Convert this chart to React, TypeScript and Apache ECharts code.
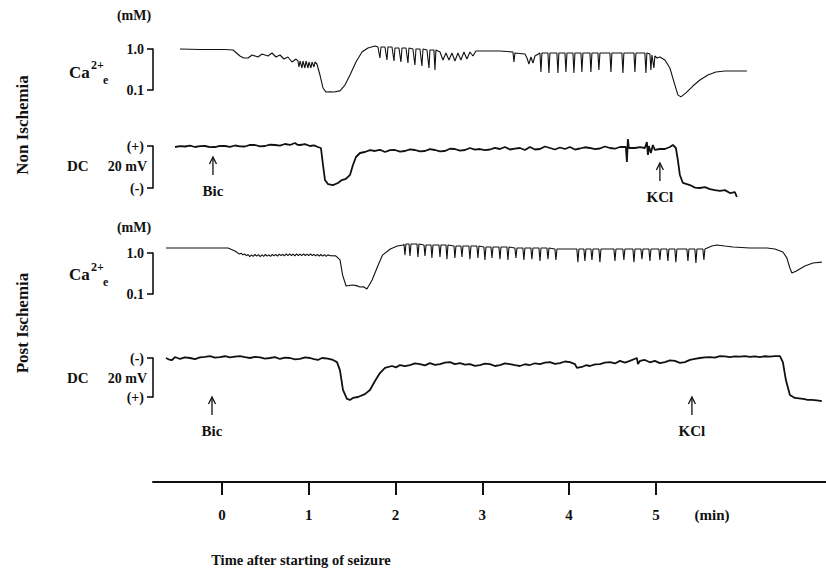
import React, { useEffect, useRef } from 'react';
import * as echarts from 'echarts';

// ---- axis / scale data ----
const TIME_MIN = -0.795; // minutes at left end of time axis
const TIME_MAX = 6.96; // minutes at right end of time axis
const TIME_TICKS = [0, 1, 2, 3, 4, 5];
const CA_SCALE_MIN = 0.1; // mM
const CA_SCALE_MAX = 1.0; // mM
const DC_SCALE_MIN = -20; // mV
const DC_SCALE_MAX = 0; // mV

// ---- Non ischemia: extracellular Ca2+ (minutes, mM) ----
const nonIschemiaCa = [
  [-0.484, 1.0], [-0.25, 0.97], [0.03, 0.97], [0.127, 0.945], [0.207, 0.675], [0.25, 0.603], [0.3, 0.603],
  [0.346, 0.714], [0.415, 0.638], [0.461, 0.755], [0.53, 0.675], [0.576, 0.799], [0.622, 0.638], [0.668, 0.714],
  [0.714, 0.57], [0.76, 0.638], [0.806, 0.482], [0.853, 0.57], [0.875, 0.51], [0.887, 0.364], [0.899, 0.51],
  [0.922, 0.344], [0.933, 0.51], [0.956, 0.344], [0.968, 0.51], [0.991, 0.344], [1.002, 0.482], [1.025, 0.344],
  [1.037, 0.482], [1.06, 0.364], [1.071, 0.482], [1.094, 0.431], [1.129, 0.232], [1.164, 0.112], [1.198, 0.089],
  [1.244, 0.091], [1.29, 0.089], [1.359, 0.095], [1.417, 0.132], [1.475, 0.232], [1.544, 0.482], [1.613, 0.845],
  [1.682, 1.058], [1.763, 1.184], [1.797, 1.119], [1.82, 0.603], [1.832, 1.119], [1.878, 1.119], [1.901, 0.539],
  [1.912, 1.119], [1.959, 1.119], [1.982, 0.51], [1.993, 1.058], [2.039, 1.058], [2.062, 0.482], [2.074, 1.058],
  [2.12, 1.058], [2.143, 0.456], [2.154, 1.058], [2.2, 1.0], [2.223, 0.407], [2.235, 1.0], [2.281, 1.0],
  [2.304, 0.385], [2.316, 1.0], [2.362, 0.945], [2.385, 0.344], [2.396, 0.945], [2.442, 0.945], [2.454, 0.308],
  [2.465, 0.945], [2.512, 0.845], [2.546, 0.539], [2.581, 0.799], [2.615, 0.539], [2.65, 0.799], [2.684, 0.51],
  [2.719, 0.799], [2.753, 0.539], [2.788, 0.845], [2.822, 0.57], [2.857, 0.845], [2.892, 0.675], [2.926, 0.894],
  [3.203, 0.894], [3.353, 0.845], [3.364, 0.482], [3.376, 0.799], [3.491, 0.755], [3.514, 0.603], [3.537, 0.431],
  [3.56, 0.638], [3.583, 0.456], [3.606, 0.675], [3.664, 0.799], [3.675, 0.275], [3.687, 0.799], [3.756, 0.799],
  [3.767, 0.26], [3.779, 0.799], [3.859, 0.799], [3.871, 0.26], [3.882, 0.799], [3.952, 0.799], [3.963, 0.275],
  [3.975, 0.799], [4.044, 0.799], [4.055, 0.26], [4.067, 0.799], [4.136, 0.799], [4.147, 0.275], [4.159, 0.799],
  [4.24, 0.799], [4.251, 0.275], [4.263, 0.799], [4.332, 0.799], [4.343, 0.308], [4.355, 0.799], [4.47, 0.799],
  [4.482, 0.275], [4.493, 0.799], [4.608, 0.799], [4.62, 0.26], [4.631, 0.799], [4.747, 0.799], [4.758, 0.275],
  [4.77, 0.799], [4.873, 0.799], [4.885, 0.26], [4.896, 0.799], [4.931, 0.755], [4.942, 0.308], [4.954, 0.714],
  [4.977, 0.344], [4.988, 0.675], [5.012, 0.603], [5.046, 0.638], [5.104, 0.539], [5.161, 0.344], [5.219, 0.132],
  [5.253, 0.076], [5.288, 0.068], [5.346, 0.085], [5.426, 0.125], [5.507, 0.175], [5.599, 0.232], [5.691, 0.275],
  [5.795, 0.291], [6.048, 0.291],
];

// ---- Non ischemia: DC potential (minutes, mV) ----
const nonIschemiaDC = [
  [-0.541, -0.48], [-0.484, -0.1], [-0.426, -0.24], [-0.369, 0.2], [-0.311, -0.48], [-0.253, -0.1], [-0.196, 0.0],
  [-0.138, -0.5], [-0.081, -0.48], [-0.023, 0.1], [0.035, 0.0], [0.092, -0.4], [0.15, 0.24], [0.207, -0.2],
  [0.265, -0.24], [0.323, 0.5], [0.38, 0.48], [0.438, -0.2], [0.495, 0.0], [0.553, 0.6], [0.611, 0.48],
  [0.668, 0.2], [0.726, 0.95], [0.783, 0.48], [0.841, 1.43], [0.87, 0.6], [0.899, 0.48], [0.956, 0.9],
  [1.014, 0.0], [1.06, 0.3], [1.106, -0.48], [1.14, -0.95], [1.164, -9.05], [1.187, -16.2], [1.221, -18.1],
  [1.279, -18.6], [1.336, -17.6], [1.382, -16.2], [1.428, -15.7], [1.475, -13.8], [1.509, -9.05], [1.544, -5.24],
  [1.59, -3.33], [1.647, -2.86], [1.705, -2.0], [1.763, -2.38], [1.82, -1.8], [1.878, -2.86], [1.936, -2.0],
  [1.993, -1.9], [2.051, -2.7], [2.108, -2.38], [2.166, -1.6], [2.223, -1.9], [2.281, -2.6], [2.339, -2.38],
  [2.396, -1.5], [2.454, -1.9], [2.512, -2.6], [2.569, -2.38], [2.627, -1.3], [2.684, -1.43], [2.742, -2.2],
  [2.8, -1.9], [2.857, -0.95], [2.914, -1.7], [2.972, -1.43], [3.03, -2.0], [3.088, -1.67], [3.145, -0.9],
  [3.203, -1.43], [3.26, -0.48], [3.318, -1.67], [3.376, -1.2], [3.433, -0.95], [3.491, -1.9], [3.548, -0.48],
  [3.606, -1.67], [3.664, -1.43], [3.721, -0.24], [3.779, -0.95], [3.836, -1.67], [3.894, -0.71], [3.952, -1.43],
  [4.009, -0.48], [4.067, -1.67], [4.124, -1.19], [4.182, -0.6], [4.24, -0.95], [4.297, -1.5], [4.355, -1.19],
  [4.412, -0.24], [4.47, -0.95], [4.528, -1.3], [4.585, -0.48], [4.654, -0.48], [4.666, -7.6], [4.677, 3.33],
  [4.689, -0.95], [4.758, -0.95], [4.816, -0.5], [4.873, -0.95], [4.896, 1.9], [4.908, -4.29], [4.919, 0.0],
  [4.942, -3.33], [4.965, 0.48], [4.988, -1.9], [5.046, -1.43], [5.104, -1.43], [5.161, -0.48], [5.196, 0.48],
  [5.23, -0.95], [5.253, -6.67], [5.276, -13.8], [5.311, -17.6], [5.392, -18.6], [5.45, -19.8], [5.507, -20.0],
  [5.565, -19.6], [5.622, -20.5], [5.68, -21.0], [5.737, -21.4], [5.795, -21.0], [5.853, -22.4], [5.91, -22.0],
  [5.933, -24.3],
];

// ---- Post ischemia: extracellular Ca2+ (minutes, mM) ----
const postIschemiaCa = [
  [-0.645, 1.32], [-0.25, 1.32], [0.07, 1.32], [0.15, 1.12], [0.2, 0.94], [0.22, 0.99], [0.24, 0.9], [0.26, 0.95],
  [0.28, 0.86], [0.3, 0.92], [0.32, 0.82], [0.34, 0.9], [0.36, 0.83], [0.38, 0.92], [0.4, 0.84], [0.42, 0.91],
  [0.44, 0.82], [0.46, 0.9], [0.48, 0.83], [0.5, 0.92], [0.52, 0.84], [0.54, 0.9], [0.56, 0.83], [0.58, 0.92],
  [0.6, 0.85], [0.62, 0.93], [0.64, 0.84], [0.66, 0.94], [0.68, 0.86], [0.7, 0.93], [0.72, 0.85], [0.74, 0.95],
  [0.76, 0.86], [0.78, 0.95], [0.8, 0.87], [0.82, 0.94], [0.84, 0.85], [0.86, 0.95], [0.88, 0.87], [0.9, 0.94],
  [0.92, 0.86], [0.94, 0.95], [0.96, 0.87], [0.98, 0.94], [1.0, 0.86], [1.02, 0.95], [1.04, 0.86], [1.06, 0.93],
  [1.08, 0.85], [1.1, 0.93], [1.12, 0.84], [1.14, 0.92], [1.16, 0.84], [1.18, 0.91], [1.2, 0.83], [1.22, 0.9],
  [1.25, 0.86], [1.31, 0.85],
  [1.36, 0.68], [1.39, 0.29], [1.43, 0.157], [1.5, 0.166], [1.55, 0.16], [1.59, 0.148], [1.63, 0.15], [1.67, 0.132],
  [1.73, 0.22], [1.8, 0.51], [1.85, 0.89], [1.94, 1.25], [2.02, 1.48], [2.09, 1.57],
  [2.097, 1.66], [2.108, 0.89], [2.12, 1.66], [2.155, 1.66], [2.166, 0.85], [2.178, 1.66],
  [2.247, 1.66], [2.258, 0.8], [2.27, 1.66], [2.328, 1.57], [2.339, 0.85], [2.351, 1.57],
  [2.408, 1.57], [2.419, 0.76], [2.431, 1.57], [2.5, 1.57], [2.512, 0.8], [2.523, 1.57],
  [2.581, 1.57], [2.592, 0.71], [2.604, 1.57], [2.673, 1.48], [2.684, 0.76], [2.696, 1.48],
  [2.753, 1.48], [2.765, 0.8], [2.777, 1.48], [2.845, 1.48], [2.857, 0.71], [2.869, 1.48],
  [2.937, 1.48], [2.949, 0.76], [2.961, 1.48], [3.018, 1.4], [3.03, 0.68], [3.042, 1.4],
  [3.099, 1.4], [3.111, 0.76], [3.123, 1.4], [3.191, 1.4], [3.203, 0.71], [3.215, 1.4],
  [3.283, 1.4], [3.295, 0.68], [3.307, 1.4], [3.375, 1.32], [3.387, 0.76], [3.399, 1.32],
  [3.467, 1.32], [3.479, 0.68], [3.491, 1.32], [3.559, 1.32], [3.571, 0.71], [3.583, 1.32],
  [3.652, 1.32], [3.664, 0.64], [3.676, 1.32], [3.744, 1.32], [3.756, 0.71], [3.768, 1.32],
  [3.836, 1.25], [3.848, 0.68], [3.86, 1.25], [4.089, 1.25], [4.101, 0.6], [4.113, 1.25],
  [4.17, 1.25], [4.182, 0.64], [4.194, 1.25], [4.251, 1.25], [4.263, 0.68], [4.275, 1.25],
  [4.343, 1.25], [4.355, 0.6], [4.367, 1.25], [4.516, 1.25], [4.528, 0.64], [4.54, 1.25],
  [4.619, 1.25], [4.631, 0.68], [4.643, 1.25], [4.735, 1.25], [4.747, 0.6], [4.759, 1.25],
  [4.827, 1.25], [4.839, 0.71], [4.851, 1.25], [4.919, 1.25], [4.931, 0.64], [4.943, 1.25],
  [5.034, 1.25], [5.046, 0.68], [5.058, 1.25], [5.126, 1.25], [5.138, 0.64], [5.15, 1.25],
  [5.218, 1.25], [5.23, 0.6], [5.242, 1.25], [5.357, 1.25], [5.369, 0.64], [5.381, 1.25],
  [5.449, 1.25], [5.461, 0.57], [5.473, 1.25], [5.541, 1.25], [5.553, 0.68], [5.565, 1.25],
  [5.645, 1.48], [5.703, 1.57], [5.795, 1.48], [5.887, 1.4], [6.083, 1.32], [6.279, 1.32], [6.371, 1.25],
  [6.463, 1.06], [6.509, 0.76], [6.544, 0.43], [6.567, 0.325], [6.613, 0.36], [6.717, 0.48], [6.809, 0.57],
  [6.912, 0.6],
];

// ---- Post ischemia: DC potential (minutes, mV) ----
const postIschemiaDC = [
  [-0.645, -20.0], [-0.61, -19.2], [-0.576, -18.97], [-0.541, -20.5], [-0.484, -19.5], [-0.427, -20.3],
  [-0.369, -20.0], [-0.311, -19.4], [-0.253, -20.3], [-0.196, -20.6], [-0.138, -21.0], [-0.081, -20.2],
  [-0.023, -20.5], [0.035, -20.9], [0.092, -20.3], [0.15, -20.7], [0.207, -21.0], [0.265, -20.4], [0.323, -20.0],
  [0.38, -20.6], [0.438, -20.3], [0.495, -19.7], [0.553, -20.0], [0.611, -20.4], [0.668, -19.5], [0.726, -20.2],
  [0.783, -20.0], [0.841, -19.3], [0.899, -19.5], [0.956, -20.3], [1.014, -20.0], [1.06, -19.4], [1.106, -19.0],
  [1.152, -20.0], [1.221, -19.7], [1.279, -19.0], [1.325, -17.9], [1.359, -13.8], [1.394, -3.6], [1.44, 1.0],
  [1.475, 1.5], [1.509, 0.5], [1.567, 0.0], [1.647, -1.5], [1.705, -3.6], [1.763, -8.2], [1.82, -12.3],
  [1.878, -14.9], [1.959, -15.9], [2.005, -15.2], [2.051, -16.4], [2.108, -15.8], [2.166, -16.4], [2.223, -17.2],
  [2.281, -16.9], [2.339, -16.2], [2.396, -17.4], [2.454, -16.5], [2.512, -16.9], [2.569, -17.6], [2.627, -17.9],
  [2.684, -16.9], [2.742, -17.4], [2.8, -16.6], [2.857, -16.9], [2.914, -16.0], [2.972, -16.4], [3.03, -17.1],
  [3.088, -16.9], [3.145, -15.9], [3.203, -16.4], [3.26, -17.2], [3.318, -16.9], [3.376, -16.3], [3.433, -15.9],
  [3.491, -16.8], [3.548, -16.4], [3.606, -17.3], [3.664, -16.9], [3.721, -17.6], [3.779, -17.9], [3.836, -17.0],
  [3.894, -17.4], [3.952, -18.2], [4.009, -17.9], [4.067, -16.9], [4.09, -14.9], [4.147, -15.4], [4.194, -16.3],
  [4.24, -15.9], [4.297, -16.7], [4.355, -16.9], [4.412, -17.6], [4.47, -17.9], [4.528, -17.2], [4.585, -18.5],
  [4.643, -17.6], [4.7, -18.5], [4.781, -20.0], [4.793, -16.9], [4.816, -18.5], [4.873, -19.0], [4.931, -17.8],
  [4.988, -18.5], [5.046, -17.4], [5.104, -17.9], [5.161, -18.8], [5.219, -18.5], [5.276, -17.5], [5.334, -17.9],
  [5.392, -19.0], [5.449, -19.6], [5.507, -20.0], [5.565, -20.3], [5.622, -20.5], [5.68, -20.2], [5.737, -21.0],
  [5.795, -20.8], [5.853, -20.5], [5.91, -20.8], [5.968, -20.7], [6.025, -21.0], [6.083, -20.6], [6.14, -20.8],
  [6.198, -20.5], [6.256, -20.9], [6.313, -20.7], [6.371, -21.0], [6.429, -21.0], [6.463, -17.9], [6.498, -8.7],
  [6.544, -1.0], [6.601, 0.5], [6.648, 0.7], [6.694, 1.0], [6.74, 1.4], [6.797, 1.5], [6.855, 1.7], [6.912, 2.1],
];

// ---- drug application markers (minutes, DC level of arrow tip in mV) ----
const nonIschemiaEventNames = ['Bic', 'KCl'];
const nonIschemiaEventTimes = [-0.104, 5.046];
const nonIschemiaEventLevels = [-5.2, -8.1];
const postIschemiaEventNames = ['Bic', 'KCl'];
const postIschemiaEventTimes = [-0.115, 5.415];
const postIschemiaEventLevels = [0, 0];

const FONT = '"Liberation Serif", "Times New Roman", "DejaVu Serif", serif';
const INK = '#111';

function arrowRenderer(names: string[]) {
  return (params: any, api: any) => {
    const p = api.coord([api.value(0), api.value(1)]);
    const x = p[0];
    const y = p[1];
    return {
      type: 'group',
      children: [
        { type: 'line', shape: { x1: x, y1: y + 1, x2: x, y2: y + 18 }, style: { stroke: INK, lineWidth: 1.3 } },
        {
          type: 'polyline',
          shape: { points: [[x - 3.5, y + 7], [x, y], [x + 3.5, y + 7]] },
          style: { stroke: INK, fill: null, lineWidth: 1.3 },
        },
        {
          type: 'text',
          style: {
            text: names[params.dataIndex],
            x,
            y: y + 34,
            align: 'center',
            verticalAlign: 'middle',
            textAlign: 'center',
            textVerticalAlign: 'middle',
            font: `bold 15px ${FONT}`,
            fill: INK,
          },
        },
      ],
    };
  };
}

function text(t: string, x: number, y: number, size: number, align = 'left', extra: any = {}) {
  return {
    type: 'text',
    x,
    y,
    ...extra,
    style: {
      text: t,
      font: `bold ${size}px ${FONT}`,
      fill: INK,
      align,
      verticalAlign: 'middle',
      textAlign: align,
      textVerticalAlign: 'middle',
    },
  };
}

export default function App() {
  const ref = useRef<HTMLDivElement>(null);

  useEffect(() => {
    if (!ref.current) return;
    const chart = echarts.init(ref.current, null, { renderer: 'svg' });

    const gridBase = { left: 153, width: 673 };
    const hiddenX = (i: number) => ({ gridIndex: i, type: 'value', min: TIME_MIN, max: TIME_MAX, show: false });
    const scaleAxisStyle = {
      axisLine: { show: true, onZero: false, lineStyle: { color: INK, width: 1.6 } },
      axisTick: { show: true, length: 6, lineStyle: { color: INK, width: 1.6 } },
      splitLine: { show: false },
    };
    const labelStyle = { color: INK, fontFamily: FONT, fontWeight: 'bold', fontSize: 14, margin: 9 };

    const caAxis = (i: number) => ({
      gridIndex: i,
      type: 'log',
      logBase: 10,
      min: CA_SCALE_MIN,
      max: CA_SCALE_MAX,
      ...scaleAxisStyle,
      axisLabel: { ...labelStyle, showMinLabel: true, showMaxLabel: true, formatter: (v: number) => (v >= 0.5 ? '1.0' : '0.1') },
    });
    const dcAxis = (i: number, inverse: boolean) => ({
      gridIndex: i,
      type: 'value',
      min: DC_SCALE_MIN,
      max: DC_SCALE_MAX,
      interval: DC_SCALE_MAX - DC_SCALE_MIN,
      inverse,
      ...scaleAxisStyle,
      axisLabel: { ...labelStyle, showMinLabel: true, showMaxLabel: true, formatter: (v: number) => (v === 0 ? '(+)' : '(-)') },
    });

    const trace = (data: number[][], i: number, width: number) => ({
      type: 'line',
      xAxisIndex: i,
      yAxisIndex: i,
      data,
      symbol: 'none',
      showSymbol: false,
      clip: false,
      silent: true,
      lineStyle: { color: INK, width },
    });

    chart.setOption({
      animation: false,
      backgroundColor: '#fff',
      grid: [
        { ...gridBase, top: 49, height: 41 },
        { ...gridBase, top: 146, height: 42 },
        { ...gridBase, top: 253, height: 41 },
        { ...gridBase, top: 358, height: 39 },
        { ...gridBase, top: 481, height: 1 },
      ],
      xAxis: [
        hiddenX(0),
        hiddenX(1),
        hiddenX(2),
        hiddenX(3),
        {
          gridIndex: 4,
          type: 'value',
          min: TIME_MIN,
          max: TIME_MAX,
          axisLine: { show: true, onZero: false, lineStyle: { color: INK, width: 2 } },
          axisTick: { show: true, customValues: TIME_TICKS, length: 13, lineStyle: { color: INK, width: 2 } },
          axisLabel: {
            show: true,
            customValues: TIME_TICKS,
            margin: 25,
            color: INK,
            fontFamily: FONT,
            fontWeight: 'bold',
            fontSize: 15,
          },
          splitLine: { show: false },
        },
      ],
      yAxis: [caAxis(0), dcAxis(1, false), caAxis(2), dcAxis(3, true), { gridIndex: 4, type: 'value', show: false }],
      series: [
        trace(nonIschemiaCa, 0, 1.1),
        trace(nonIschemiaDC, 1, 1.8),
        trace(postIschemiaCa, 2, 1.1),
        trace(postIschemiaDC, 3, 1.8),
        {
          type: 'custom',
          xAxisIndex: 1,
          yAxisIndex: 1,
          silent: true,
          data: nonIschemiaEventTimes.map((t, k) => [t, nonIschemiaEventLevels[k]]),
          renderItem: arrowRenderer(nonIschemiaEventNames),
        },
        {
          type: 'custom',
          xAxisIndex: 3,
          yAxisIndex: 3,
          silent: true,
          data: postIschemiaEventTimes.map((t, k) => [t, postIschemiaEventLevels[k]]),
          renderItem: arrowRenderer(postIschemiaEventNames),
        },
      ],
      graphic: [
        // Non ischemia block
        text('Non Ischemia', 22, 125, 17, 'center', { rotation: Math.PI / 2 }),
        text('(mM)', 134, 15, 14, 'center'),
        text('Ca', 69, 72, 17),
        text('2+', 91, 65, 12),
        text('e', 103, 80, 12),
        text('DC', 67, 166, 15),
        text('20 mV', 147, 166, 14, 'right'),
        // Post ischemia block
        text('Post Ischemia', 22, 323, 17, 'center', { rotation: Math.PI / 2 }),
        text('(mM)', 134, 227, 14, 'center'),
        text('Ca', 69, 274, 17),
        text('2+', 91, 267, 12),
        text('e', 103, 282, 12),
        text('DC', 67, 378, 15),
        text('20 mV', 147, 378, 14, 'right'),
        // time axis
        text('(min)', 712, 515, 15, 'center'),
        text('Time after starting of seizure', 301, 560, 14.5, 'center'),
      ],
    });

    return () => chart.dispose();
  }, []);

  return (
    <div
      ref={ref}
      style={{ position: 'absolute', left: 0, top: 0, width: 826, height: 573, background: '#fff' }}
    />
  );
}
